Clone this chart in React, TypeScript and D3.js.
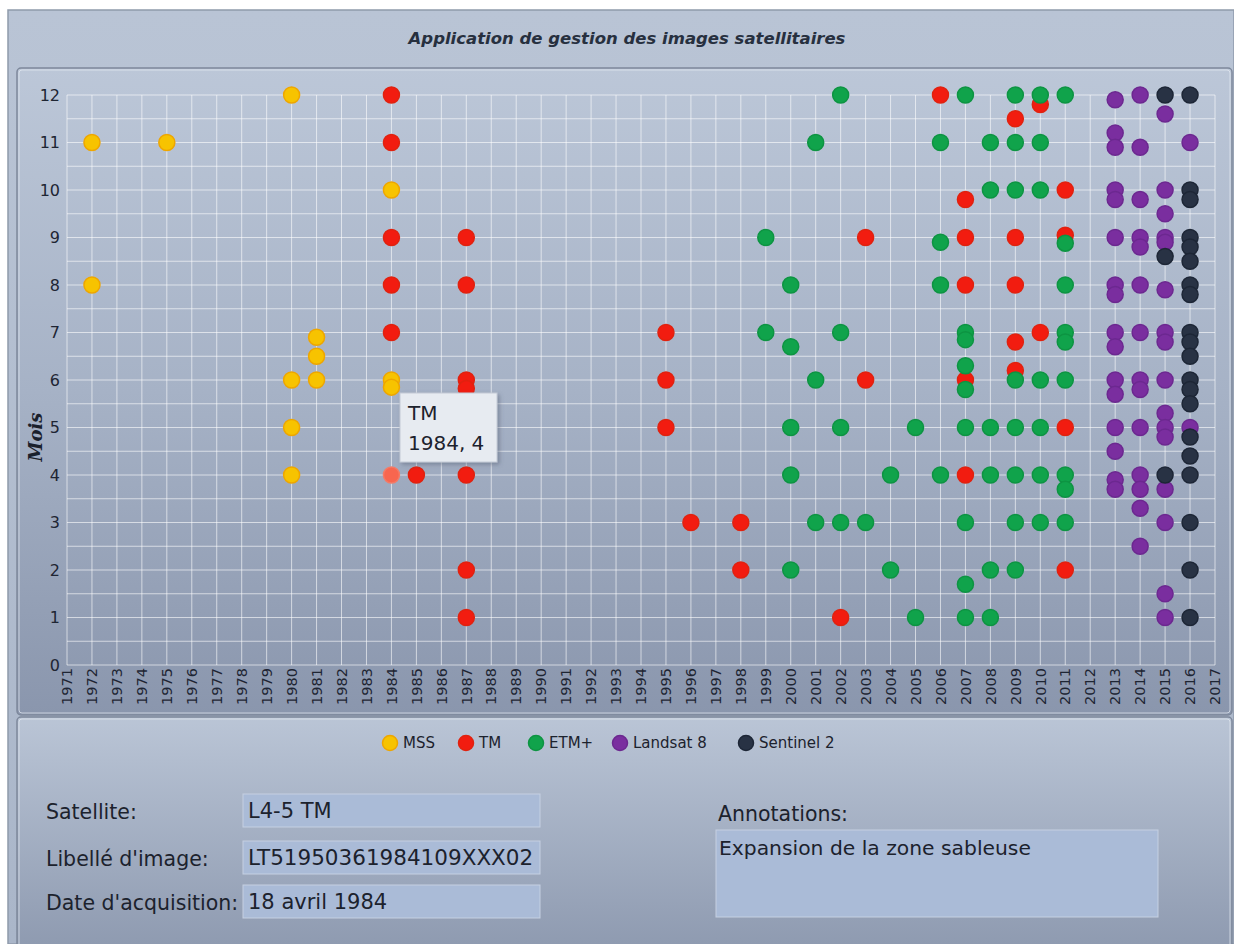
import React from "react";
import * as d3 from "d3";

const W = 1234;
const H = 944;

// [year, month] – stacked acquisitions in the same month are drawn a little lower
const mss: [number, number][] = [
  [1972, 11], [1972, 8], [1975, 11], [1980, 12], [1980, 6], [1980, 5], [1980, 4],
  [1981, 6.9], [1981, 6.5], [1981, 6], [1984, 10], [1984, 6], [1984, 5.85],
];
const tm: [number, number][] = [
  [1984, 12], [1984, 11], [1984, 9], [1984, 8], [1984, 7], [1984, 4], [1985, 4],
  [1987, 9], [1987, 8], [1987, 6], [1987, 5.82], [1987, 4], [1987, 2], [1987, 1],
  [1995, 7], [1995, 6], [1995, 5], [1996, 3], [1998, 3], [1998, 2], [2002, 1],
  [2003, 9], [2003, 6], [2006, 12], [2007, 9.8], [2007, 9], [2007, 8], [2007, 6],
  [2007, 4], [2009, 11.5], [2009, 9], [2009, 8], [2009, 6.8], [2009, 6.2],
  [2010, 11.8], [2010, 7], [2011, 10], [2011, 9.05], [2011, 5], [2011, 2],
];
const etm: [number, number][] = [
  [1999, 9], [1999, 7], [2000, 8], [2000, 6.7], [2000, 5], [2000, 4], [2000, 2],
  [2001, 11], [2001, 6], [2001, 3], [2002, 12], [2002, 7], [2002, 5], [2002, 3],
  [2003, 3], [2004, 4], [2004, 2], [2005, 5], [2005, 1], [2006, 11], [2006, 8.9],
  [2006, 8], [2006, 4], [2007, 12], [2007, 7], [2007, 6.85], [2007, 6.3], [2007, 5.8],
  [2007, 5], [2007, 3], [2007, 1.7], [2007, 1], [2008, 11], [2008, 10], [2008, 5],
  [2008, 4], [2008, 2], [2008, 1], [2009, 12], [2009, 11], [2009, 10], [2009, 6],
  [2009, 5], [2009, 4], [2009, 3], [2009, 2], [2010, 12], [2010, 11], [2010, 10],
  [2010, 6], [2010, 5], [2010, 4], [2010, 3], [2011, 12], [2011, 8.88], [2011, 8],
  [2011, 7], [2011, 6.8], [2011, 6], [2011, 4], [2011, 3.7], [2011, 3],
];
const landsat8: [number, number][] = [
  [2013, 11.9], [2013, 11.2], [2013, 10.9], [2013, 10], [2013, 9.8], [2013, 9],
  [2013, 8], [2013, 7.8], [2013, 7], [2013, 6.7], [2013, 6], [2013, 5.7], [2013, 5],
  [2013, 4.5], [2013, 3.9], [2013, 3.7], [2014, 12], [2014, 10.9], [2014, 9.8],
  [2014, 9], [2014, 8.8], [2014, 8], [2014, 7], [2014, 6], [2014, 5.8], [2014, 5],
  [2014, 4], [2014, 3.7], [2014, 3.3], [2014, 2.5], [2015, 11.6], [2015, 10],
  [2015, 9.5], [2015, 9], [2015, 8.9], [2015, 7.9], [2015, 7], [2015, 6.8], [2015, 6],
  [2015, 5.3], [2015, 5], [2015, 4.8], [2015, 3.7], [2015, 3], [2015, 1.5], [2015, 1],
  [2016, 11], [2016, 5],
];
const sentinel2: [number, number][] = [
  [2015, 12], [2015, 8.6], [2015, 4], [2016, 12], [2016, 10], [2016, 9.8], [2016, 9],
  [2016, 8.8], [2016, 8.5], [2016, 8], [2016, 7.8], [2016, 7], [2016, 6.8], [2016, 6.5],
  [2016, 6], [2016, 5.8], [2016, 5.5], [2016, 4.8], [2016, 4.4], [2016, 4], [2016, 3],
  [2016, 2], [2016, 1],
];

const seriesNames = ["MSS", "TM", "ETM+", "Landsat 8", "Sentinel 2"];
const seriesData = [mss, tm, etm, landsat8, sentinel2];
const seriesFill = ["#f7c300", "#f21c10", "#10a34b", "#7a2e9f", "#283244"];
const seriesStroke = ["#eea600", "#e0220f", "#0d9442", "#6c2890", "#1d2636"];

const yearTicks = d3.range(1971, 2018);
const monthTicks = d3.range(0, 13);
const monthGrid = d3.range(0, 12.5, 0.5);

// hovered point and its tooltip
const hoverSeries = 1;
const hoverPoint: [number, number] = [1984, 4];
const tooltipLines = ["TM", "1984, 4"];

const formLabels = ["Satellite:", "Libellé d'image:", "Date d'acquisition:"];
const formValues = ["L4-5 TM", "LT51950361984109XXX02", "18 avril 1984"];
const annotationLabel = "Annotations:";
const annotationText = "Expansion de la zone sableuse";
const title = "Application de gestion des images satellitaires";

const FONT = "'DejaVu Sans', Verdana, sans-serif";

export default function App() {
  const x = d3.scaleLinear().domain([1971, 2017]).range([67, 1215]);
  const y = d3.scaleLinear().domain([0, 12]).range([665, 95]);
  const r = 8;

  const legendX = [390, 466, 536, 620, 746];
  const rowY = [794, 841, 885];

  return (
    <div style={{ position: "absolute", left: 0, top: 0 }}>
      <svg width={W} height={H} style={{ display: "block" }}>
        <defs>
          <linearGradient id="frameGrad" x1="0" y1="0" x2="0" y2="1">
            <stop offset="0" stopColor="#b9c4d5" />
            <stop offset="1" stopColor="#aab6c9" />
          </linearGradient>
          <linearGradient id="chartGrad" x1="0" y1="0" x2="0" y2="1">
            <stop offset="0" stopColor="#bcc7d8" />
            <stop offset="0.5" stopColor="#a6b2c6" />
            <stop offset="1" stopColor="#8a96ad" />
          </linearGradient>
          <linearGradient id="lowerGrad" x1="0" y1="0" x2="0" y2="1">
            <stop offset="0" stopColor="#bac5d6" />
            <stop offset="1" stopColor="#8e9ab0" />
          </linearGradient>
          <filter id="shadow" x="-20%" y="-20%" width="140%" height="140%">
            <feDropShadow dx="2" dy="2" stdDeviation="2" floodColor="#4a5568" floodOpacity="0.45" />
          </filter>
        </defs>

        <rect width={W} height={H} fill="#ffffff" />
        {/* window frame + title bar */}
        <rect x={8} y={10} width={W - 8} height={H - 10} fill="url(#frameGrad)" stroke="#8f9aab" strokeWidth={1.5} />
        <text x={627} y={44} textAnchor="middle" fontFamily={FONT} fontSize={16.5}
          fontWeight="bold" fontStyle="italic" fill="#27303f">{title}</text>

        {/* chart panel */}
        <rect x={17} y={68} width={1215} height={647} rx={4} fill="url(#chartGrad)" stroke="#7d889b" strokeWidth={1.5} />
        <rect x={19} y={70} width={1211} height={643} rx={3} fill="none" stroke="#e6ebf2" strokeOpacity={0.7} strokeWidth={1} />

        {/* grid */}
        <g stroke="#ffffff" strokeOpacity={0.6} strokeWidth={1}>
          {yearTicks.map((t) => (
            <line key={"v" + t} x1={x(t)} x2={x(t)} y1={y(12)} y2={y(0)} />
          ))}
          {monthGrid.map((m) => (
            <line key={"h" + m} x1={x(1971)} x2={x(2017)} y1={y(m)} y2={y(m)} />
          ))}
        </g>

        {/* y axis */}
        <g fontFamily={FONT} fontSize={16} fill="#1e2533" textAnchor="end">
          {monthTicks.map((m) => (
            <text key={m} x={60} y={y(m)} dy="0.36em">{m}</text>
          ))}
        </g>
        <text transform={`translate(36,437) rotate(-90)`} textAnchor="middle" dy="0.35em"
          fontFamily="'DejaVu Serif', Georgia, serif" fontWeight="bold" fontStyle="italic"
          fontSize={18} fill="#1a202c">Mois</text>

        {/* x axis */}
        <g fontFamily={FONT} fontSize={14.5} fill="#1e2533" textAnchor="end">
          {yearTicks.map((t) => (
            <text key={t} transform={`translate(${x(t)},668) rotate(-90)`} dy="0.36em">{t}</text>
          ))}
        </g>

        {/* points */}
        {seriesData.map((pts, si) => (
          <g key={seriesNames[si]}>
            {pts.map(([yr, mo], i) => {
              const hovered = si === hoverSeries && yr === hoverPoint[0] && mo === hoverPoint[1];
              return (
                <circle key={i} cx={x(yr)} cy={y(mo)} r={r}
                  fill={hovered ? "#f8664f" : seriesFill[si]}
                  stroke={hovered ? "#f47a66" : seriesStroke[si]} strokeWidth={1.5} />
              );
            })}
          </g>
        ))}

        {/* tooltip */}
        <g filter="url(#shadow)">
          <rect x={400} y={393} width={97} height={69} fill="#e7ebf1" stroke="#c3cad6" strokeWidth={1} />
        </g>
        {tooltipLines.map((l, i) => (
          <text key={l} x={408} y={420 + i * 30} fontFamily={FONT} fontSize={20} fill="#1c222d">{l}</text>
        ))}

        {/* lower panel */}
        <rect x={17} y={717} width={1215} height={232} rx={4} fill="url(#lowerGrad)" stroke="#7d889b" strokeWidth={1.5} />
        <rect x={19} y={719} width={1211} height={228} rx={3} fill="none" stroke="#e6ebf2" strokeOpacity={0.7} strokeWidth={1} />

        {/* legend */}
        <g fontFamily={FONT} fontSize={15} fill="#1c222d">
          {seriesNames.map((n, i) => (
            <g key={n}>
              <circle cx={legendX[i]} cy={743} r={7.5} fill={seriesFill[i]} stroke={seriesStroke[i]} strokeWidth={1.5} />
              <text x={legendX[i] + 13} y={743} dy="0.36em">{n}</text>
            </g>
          ))}
        </g>

        {/* form */}
        {formLabels.map((l, i) => (
          <g key={l}>
            <text x={46} y={rowY[i] + 25} fontFamily={FONT} fontSize={20.5} fill="#1c222d">{l}</text>
            <rect x={243} y={rowY[i]} width={297} height={33} fill="#aabbd7" stroke="#c5d0e2" strokeWidth={1} />
            <text x={248} y={rowY[i] + 24} fontFamily={FONT} fontSize={i === 1 ? 21.5 : 21} fill="#1c222d">{formValues[i]}</text>
          </g>
        ))}
        <text x={718} y={821} fontFamily={FONT} fontSize={20.5} fill="#1c222d">{annotationLabel}</text>
        <rect x={716} y={830} width={442} height={87} fill="#aabbd7" stroke="#c5d0e2" strokeWidth={1} />
        <text x={719} y={855} fontFamily={FONT} fontSize={20.3} fill="#1c222d">{annotationText}</text>
      </svg>
    </div>
  );
}
